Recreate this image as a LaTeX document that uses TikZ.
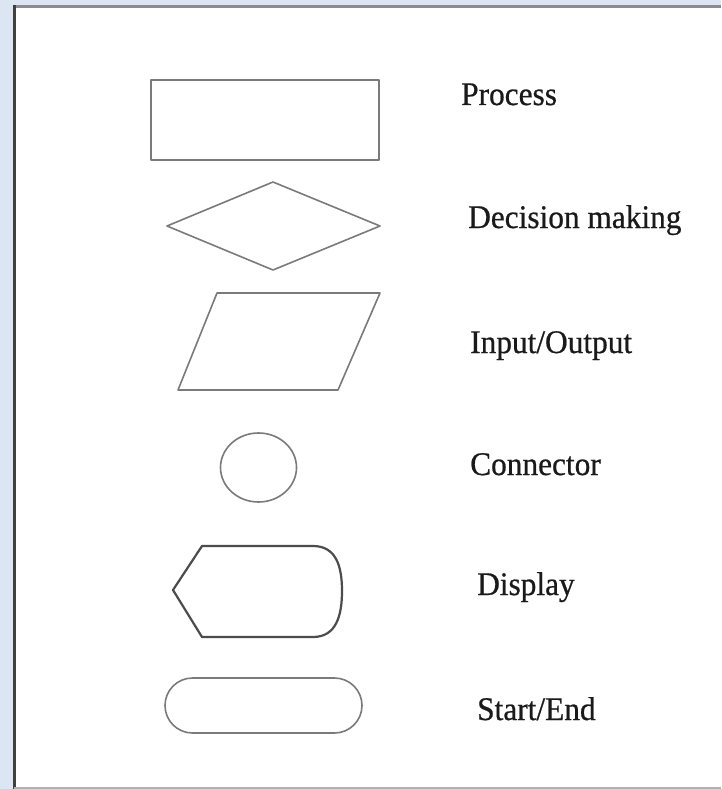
\documentclass[tikz,border=0pt]{standalone}
\usepackage{fontspec}
\setmainfont{Liberation Serif}
\newfontfamily\lblfont[FakeStretch=0.95,FakeBold=0.6]{Liberation Serif}
\usetikzlibrary{shapes.geometric}
\definecolor{bgblue}{HTML}{DCE6F2}
\definecolor{shapegray}{HTML}{7A7A7A}
\definecolor{lblcol}{HTML}{1A1A1A}
\tikzset{
  symb/.style={draw=shapegray, line width=1.6pt, line join=round},
  lbl/.style={anchor=base west, inner sep=0pt, font=\lblfont\fontsize{33}{36}\selectfont, text=lblcol}
}
\begin{document}
\begin{tikzpicture}[x=1pt,y=-1pt]
\useasboundingbox (0,0) rectangle (721,789);
\fill[bgblue] (0,0) rectangle (721,789);
\fill[white] (14,6) rectangle (721,788);
\draw[line width=3pt, color=gray!90] (14,6.5) -- (721,6.5);
\draw[line width=3pt, color=black!75] (14.5,5) -- (14.5,789);
\draw[line width=1.5pt, color=gray!60] (14,788) -- (721,788);
% Process
\draw[symb] (151,80) rectangle (379,160);
\node[lbl] (process) at (461,105) {Process};
% Decision
\draw[symb] (167,226) -- (273,182) -- (380,226) -- (273,270) -- cycle;
\node[lbl] (decision) at (468,228) {Decision making};
% Input/Output
\draw[symb] (217,293) -- (380,293) -- (338,390) -- (178,390) -- cycle;
\node[lbl] (io) at (470,353) {Input/Output};
% Connector
\draw[symb] (258.5,467.5) ellipse [x radius=38, y radius=34.5];
\node[lbl] (conn) at (470,475) {Connector};
% Display
\draw[symb, draw=black!70, line width=2.2pt] (173,590) -- (202,546) -- (313,546)
  .. controls (336,546) and (342,566) .. (342,591)
  .. controls (342,616) and (336,637) .. (313,637) -- (202,637) -- cycle;
\node[lbl] (display) at (477,595) {Display};
% Start/End
\draw[symb, rounded corners=27.5pt] (165,678) rectangle (362,733);
\node[lbl] (startend) at (477,720) {Start/End};
\end{tikzpicture}
\end{document}
